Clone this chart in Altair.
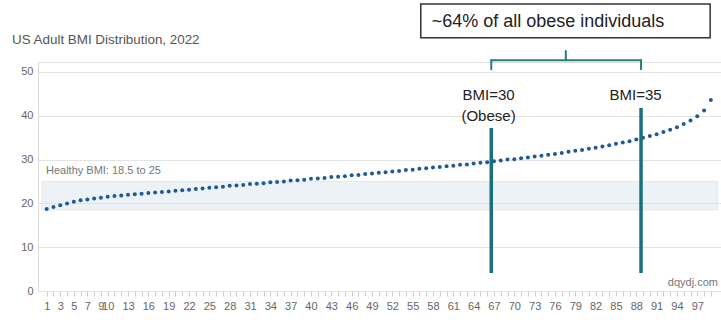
import altair as alt
import pandas as pd

# ---- data ----
percentiles = list(range(1, 100))
bmi = [18.7, 19.2, 19.6, 20.0, 20.4, 20.7, 20.9, 21.1, 21.3, 21.5,
       21.7, 21.8, 22.0, 22.1, 22.2, 22.4, 22.5, 22.6, 22.7, 22.9,
       23.0, 23.1, 23.3, 23.4, 23.6, 23.7, 23.8, 24.0, 24.1, 24.2,
       24.4, 24.5, 24.6, 24.8, 24.9, 25.0, 25.2, 25.3, 25.4, 25.6,
       25.7, 25.8, 26.0, 26.1, 26.2, 26.4, 26.5, 26.7, 26.8, 27.0,
       27.1, 27.3, 27.4, 27.6, 27.7, 27.9, 28.0, 28.2, 28.3, 28.5,
       28.6, 28.8, 28.9, 29.1, 29.3, 29.4, 29.6, 29.8, 30.0, 30.1,
       30.3, 30.5, 30.7, 30.9, 31.1, 31.3, 31.5, 31.8, 32.0, 32.2,
       32.5, 32.7, 33.0, 33.3, 33.6, 33.9, 34.2, 34.6, 35.0, 35.4,
       35.8, 36.3, 36.8, 37.4, 38.1, 38.9, 39.9, 41.2, 43.6]
x_labels = [1, 3, 5, 7, 9, 10] + list(range(13, 98, 3))
y_ticks = [0, 10, 20, 30, 40, 50]

title_text = "US Adult BMI Distribution, 2022"
title_x, title_y = -4.12, 57.3

healthy_low, healthy_high = 18.5, 25
healthy_x = [0.3, 100.0]
healthy_label = "Healthy BMI: 18.5 to 25"

# vertical markers (percentile position, bottom, top)
marker_x = [66.6, 88.7]
marker_bottom = [4.1, 4.1]
marker_top = [37.2, 41.8]
marker_label_x = [66.2, 87.9]
marker_label_line1 = ["BMI=30", "BMI=35"]
marker_label_y1 = [44.7, 44.7]
marker_label_line2 = ["(Obese)"]
marker_label_y2 = [39.9]

# bracket and callout box
bracket_y = 52.7
bracket_end_y = 50.6
bracket_mid_x = 77.6
bracket_mid_top = 54.8
box_x = [56.2, 98.9]
box_y = [57.8, 65.5]
box_text = "~64% of all obese individuals"
box_text_x = 57.8
box_text_y = 61.4

source_text = "dqydj.com"
source_x, source_y = 100.05, 1.2

X_DOMAIN = [-0.284, 100.5]
Y_DOMAIN = [0, 52.28]
FONT = "Liberation Sans"

xs = alt.Scale(domain=X_DOMAIN, nice=False, zero=False)
ys = alt.Scale(domain=Y_DOMAIN, nice=False, zero=False)

label_test = "indexof([" + ",".join(str(v) for v in x_labels) + "], datum.value) >= 0 ? datum.label : ''"

X_AXIS = alt.Axis(
    values=percentiles, grid=False, domain=False, ticks=True, tickSize=5,
    tickColor="#d0d0d0", labelExpr=label_test, labelOverlap=False,
    labelFont=FONT, labelFontSize=11, labelColor="#666", labelPadding=4,
    labelAngle=0, title=None)
Y_AXIS = alt.Axis(
    values=y_ticks, grid=True, gridColor="#e4e4e4", domain=False, ticks=False,
    labelFont=FONT, labelFontSize=11, labelColor="#666", labelPadding=5,
    title=None)


def X(field):
    return alt.X(field, type="quantitative", scale=xs, axis=X_AXIS)


def Y(field):
    return alt.Y(field, type="quantitative", scale=ys, axis=Y_AXIS)


df = pd.DataFrame({"pct": percentiles, "bmi": bmi})

band = alt.Chart(pd.DataFrame({"x0": [healthy_x[0]], "x1": [healthy_x[1]],
                               "y0": [healthy_low], "y1": [healthy_high]})).mark_rect(
    fill="#d8e2ec", fillOpacity=0.45, stroke="#dfe4ea", strokeWidth=0.8
).encode(x=X("x0"), x2="x1", y=Y("y0"), y2="y1")

band_text = alt.Chart(pd.DataFrame({"x": [healthy_x[0]], "y": [healthy_high], "t": [healthy_label]})).mark_text(
    align="left", baseline="bottom", dx=4, dy=-5, font=FONT, fontSize=11, color="#777"
).encode(x=X("x"), y=Y("y"), text="t:N")

dots = alt.Chart(df).mark_circle(size=16, color="#1f5a96", opacity=1).encode(
    x=X("pct"), y=Y("bmi"),
)

markers = alt.Chart(pd.DataFrame({"x": marker_x, "y0": marker_bottom, "y1": marker_top})).mark_rule(
    color="#17707a", strokeWidth=3.5
).encode(x=X("x"), y=Y("y0"), y2="y1")

mlabels1 = alt.Chart(pd.DataFrame({"x": marker_label_x, "y": marker_label_y1, "t": marker_label_line1})).mark_text(
    font=FONT, fontSize=15, color="#222", baseline="middle", align="center"
).encode(x=X("x"), y=Y("y"), text="t:N")

mlabels2 = alt.Chart(pd.DataFrame({"x": marker_label_x[:1], "y": marker_label_y2, "t": marker_label_line2})).mark_text(
    font=FONT, fontSize=15, color="#222", baseline="middle", align="center"
).encode(x=X("x"), y=Y("y"), text="t:N")

bracket_df = pd.DataFrame({
    "x0": [marker_x[0], marker_x[0], marker_x[1], bracket_mid_x],
    "x1": [marker_x[1], marker_x[0], marker_x[1], bracket_mid_x],
    "y0": [bracket_y, bracket_y, bracket_y, bracket_y],
    "y1": [bracket_y, bracket_end_y, bracket_end_y, bracket_mid_top],
})
bracket = alt.Chart(bracket_df).mark_rule(color="#2a7c80", strokeWidth=2, strokeCap="round").encode(
    x=X("x0"), x2="x1", y=Y("y0"), y2="y1",
)

box = alt.Chart(pd.DataFrame({"x0": [box_x[0]], "x1": [box_x[1]], "y0": [box_y[0]], "y1": [box_y[1]]})).mark_rect(
    fill="white", stroke="#333", strokeWidth=1.5
).encode(x=X("x0"), x2="x1", y=Y("y0"), y2="y1")

box_label = alt.Chart(pd.DataFrame({"x": [box_text_x], "y": [box_text_y], "t": [box_text]})).mark_text(
    font=FONT, fontSize=18, color="#222", align="left", baseline="middle"
).encode(x=X("x"), y=Y("y"), text="t:N")

source = alt.Chart(pd.DataFrame({"x": [source_x], "y": [source_y], "t": [source_text]})).mark_text(
    font=FONT, fontSize=11, color="#777", align="right", baseline="alphabetic"
).encode(x=X("x"), y=Y("y"), text="t:N")

title = alt.Chart(pd.DataFrame({"x": [title_x], "y": [title_y], "t": [title_text]})).mark_text(
    font=FONT, fontSize=13.4, color="#555", align="left", baseline="middle"
).encode(x=X("x"), y=Y("y"), text="t:N")

chart = alt.layer(band, band_text, dots, markers, mlabels1, mlabels2, bracket, box, box_label,
                  source, title).properties(
    width=683, height=229,
    autosize=alt.AutoSizeParams(type="none"),
    padding={"left": 38, "top": 62, "right": 0, "bottom": 29},
).configure_view(strokeWidth=0).configure(background="white")

chart.save("out.html", embed_options={"renderer": "svg", "actions": False})
